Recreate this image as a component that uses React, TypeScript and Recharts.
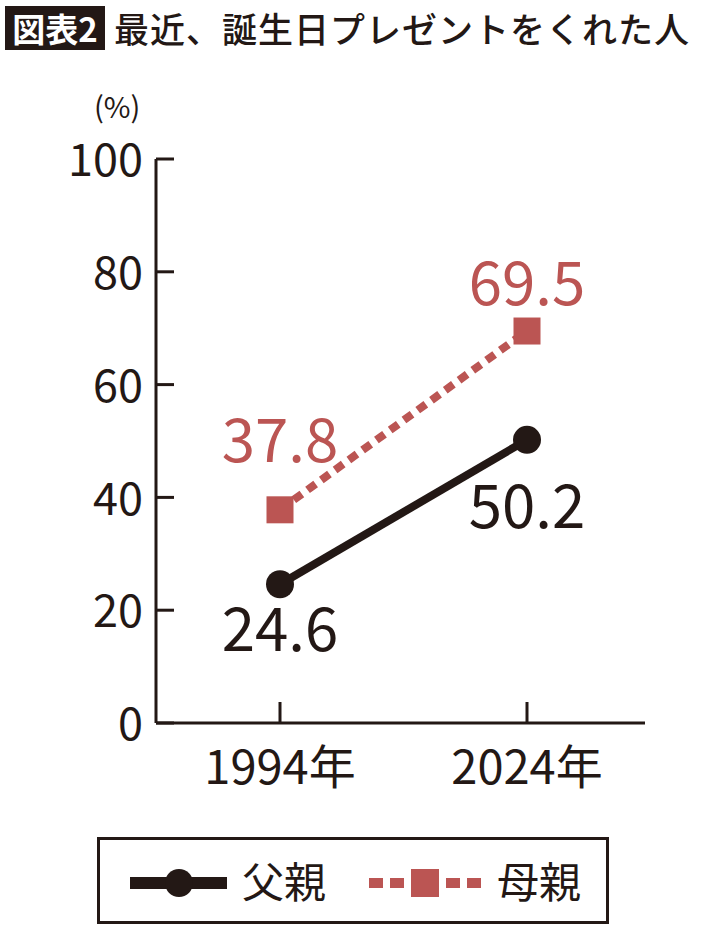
import { LineChart, Line, XAxis, YAxis } from "recharts";

const years = ["1994年", "2024年"];
const fatherValues = [24.6, 50.2];
const motherValues = [37.8, 69.5];
const yTicks = [0, 20, 40, 60, 80, 100];

// per-point label offsets (px from the point)
const fatherLabelDy = [67, 88];
const motherLabelDy = [-48, -26];

const BLACK = "#231815";
const RED = "#bb5553";
const FONT = "'Noto Sans CJK JP', 'Noto Sans', sans-serif";

const data = years.map((year, i) => ({
  year,
  father: fatherValues[i],
  mother: motherValues[i],
}));

const YTick = ({ x, y, payload }: any) => (
  <g>
    <line x1={x} x2={x + 18} y1={y} y2={y} stroke={BLACK} strokeWidth={3} />
    <text x={x - 13} y={y} dy="0.38em" textAnchor="end" fontSize={45} fill={BLACK} fontFamily={FONT}>
      {payload.value}
    </text>
  </g>
);

const XTick = ({ x, y, payload }: any) => (
  <g>
    <line x1={x} x2={x} y1={y - 21} y2={y} stroke={BLACK} strokeWidth={3} />
    <text x={x} y={y + 61} textAnchor="middle" fontSize={47} fill={BLACK} fontFamily={FONT}>
      {payload.value}
    </text>
  </g>
);

const SquareDot = ({ cx, cy }: any) => (
  <rect x={cx - 13.5} y={cy - 13.5} width={27} height={27} fill={RED} />
);

const makeLabel = (offsets: number[], color: string) => (props: any) => {
  const { x, y, value, index } = props;
  return (
    <text x={x} y={y + offsets[index]} textAnchor="middle" fontSize={60} fill={color} fontFamily={FONT}>
      {value}
    </text>
  );
};

export default function App() {
  return (
    <div style={{ position: "absolute", left: 0, top: 0, width: 710, height: 937, background: "#fff", fontFamily: FONT }}>
      <div style={{ position: "absolute", left: 5, top: 6, width: 100, height: 44, background: BLACK, color: "#fff", fontSize: 33, fontWeight: 700, lineHeight: "44px", textAlign: "center" }}>
        図表2
      </div>
      <div style={{ position: "absolute", left: 114, top: 4, fontSize: 35, fontWeight: 500, color: BLACK, lineHeight: "48px", letterSpacing: 1 }}>
        最近、誕生日プレゼントをくれた人
      </div>
      <div style={{ position: "absolute", left: 94, top: 90, fontSize: 29, color: BLACK, lineHeight: "30px" }}>(%)</div>

      <LineChart width={710} height={800} data={data} margin={{ top: 159, right: 65, bottom: 0, left: 0 }} style={{ position: "absolute", left: 0, top: 0 }}>
        <XAxis
          dataKey="year"
          height={77}
          padding={{ left: 124, right: 118 }}
          axisLine={{ stroke: BLACK, strokeWidth: 3 }}
          tickLine={false}
          tickSize={0}
          tickMargin={0}
          tick={<XTick />}
        />
        <YAxis
          width={156}
          domain={[0, 100]}
          ticks={yTicks}
          axisLine={{ stroke: BLACK, strokeWidth: 3 }}
          tickLine={false}
          tickSize={0}
          tickMargin={0}
          tick={<YTick />}
        />
        <Line
          dataKey="mother"
          stroke={RED}
          strokeWidth={8}
          strokeDasharray="10 7"
          dot={<SquareDot />}
          activeDot={false}
          label={makeLabel(motherLabelDy, RED)}
          isAnimationActive={false}
        />
        <Line
          dataKey="father"
          stroke={BLACK}
          strokeWidth={8}
          dot={{ r: 14, fill: BLACK, stroke: "none" }}
          activeDot={false}
          label={makeLabel(fatherLabelDy, BLACK)}
          isAnimationActive={false}
        />
      </LineChart>

      <div style={{ position: "absolute", left: 97, top: 837, width: 506, height: 81, border: `3px solid ${BLACK}` }}>
        <svg width={506} height={81}>
          <line x1={30} x2={127} y1={43} y2={43} stroke={BLACK} strokeWidth={12} />
          <circle cx={79} cy={43} r={14} fill={BLACK} />
          <text x={142} y={43} dy="0.36em" fontSize={42} fill={BLACK} fontFamily={FONT}>父親</text>
          <rect x={269} y={38} width={14} height={10} fill={RED} />
          <rect x={290} y={38} width={14} height={10} fill={RED} />
          <rect x={311} y={29} width={28} height={28} fill={RED} />
          <rect x={346} y={38} width={14} height={10} fill={RED} />
          <rect x={367} y={38} width={14} height={10} fill={RED} />
          <text x={397} y={43} dy="0.36em" fontSize={42} fill={BLACK} fontFamily={FONT}>母親</text>
        </svg>
      </div>
    </div>
  );
}
